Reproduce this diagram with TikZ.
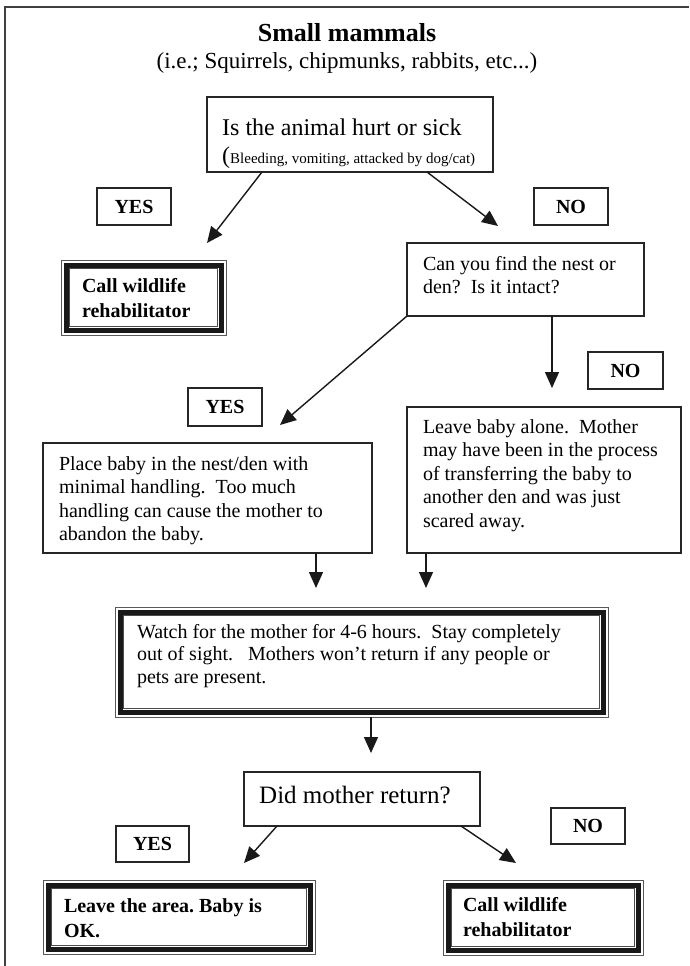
\documentclass[tikz,border=0pt]{standalone}
\usepackage{fontspec}
\setmainfont{Liberation Serif}
\usetikzlibrary{arrows.meta}
\frenchspacing
\newcommand\tup{\rule{0pt}{15pt}}
\newcommand\tribord[1]{%
  \draw[line width=5pt,black!90] ([shift={(5pt,-5pt)}]#1.north west) rectangle ([shift={(-5pt,5pt)}]#1.south east);
  \draw[line width=0.8pt,black!70] ([shift={(8.8pt,-8.8pt)}]#1.north west) rectangle ([shift={(-8.8pt,8.8pt)}]#1.south east);}
\tikzset{
  box/.style={draw=black!85, line width=1.3pt, rectangle, inner sep=0pt, outer sep=0pt},
  tbox/.style={draw=black!65, line width=0.8pt, rectangle, inner sep=0pt, outer sep=0pt},
  sz/.style 2 args={minimum width=#1, minimum height=#2},
  lab/.style={box, font=\bfseries\fontsize{20}{24}\selectfont},
  txt/.style={anchor=north west, inner sep=0pt, outer sep=0pt, align=left, font=\fontsize{20}{23.5}\selectfont},
  btxt/.style={txt, font=\bfseries\fontsize{20}{25}\selectfont},
  arr/.style={-{Triangle[length=16pt,width=14pt]}, line width=1.4pt, black!90},
}
\begin{document}
\begin{tikzpicture}[x=1pt,y=-1pt]
\useasboundingbox (0,0) rectangle (689,966);
\fill[white] (0,0) rectangle (689,966);
% outer frame (cropped)
\draw[line width=2pt, black!75] (5,966) -- (5,7) -- (689,7);

% title
\node[anchor=base, inner sep=0pt, font=\bfseries\fontsize{26}{30}\selectfont] (title) at (347,42) {Small mammals};
\node[anchor=base, inner sep=0pt, font=\fontsize{23}{27}\selectfont] (subtitle) at (347,69) {(i.e.; Squirrels, chipmunks, rabbits, etc...)};

% boxes
\node[box, sz={286}{75}] (b1) at (350,134.5) {};
\node[anchor=base west, inner sep=0pt, font=\fontsize{24}{28}\selectfont] (b1t) at (222,135) {Is the animal hurt or sick};
\node[anchor=base west, inner sep=0pt, font=\fontsize{15}{18}\selectfont] (b1u) at (222,163) {{\fontsize{24}{28}\selectfont(}Bleeding, vomiting, attacked by dog/cat)};

\node[lab, sz={74}{37}] (yes1) at (134,206.5) {YES};
\node[lab, sz={74}{37}] (no1) at (571,206.5) {NO};

\node[tbox, sz={165}{75}] (call1) at (143.5,297.5) {};
\tribord{call1}
\node[btxt] (call1t) at (82,277) {\tup Call wildlife\\rehabilitator};

\node[box, sz={237}{73}] (b2) at (525.5,279.5) {};
\node[txt] (b2t) at (423,255) {\tup Can you find the nest or\\den?\ \ Is it intact?};

\node[lab, sz={75}{37}] (no2) at (625.5,370.5) {NO};
\node[lab, sz={74}{38}] (yes2) at (225,407) {YES};

\node[box, sz={329}{110}] (place) at (207.5,498) {};
\node[txt] (placet) at (59,455) {\tup Place baby in the nest/den with\\minimal handling.\ \ Too much\\handling can cause the mother to\\abandon the baby.};

\node[box, sz={274}{146}] (leavebaby) at (544,480) {};
\node[txt] (leavebabyt) at (423,418) {\tup Leave baby alone.\ \ Mother\\may have been in the process\\of transferring the baby to\\another den and was just\\scared away.};

\node[tbox, sz={493}{110}] (watch) at (361.5,662) {};
\tribord{watch}
\node[txt, font=\fontsize{20}{22.5}\selectfont] (watcht) at (137,623) {\tup Watch for the mother for 4-6 hours.\ \ Stay completely\\out of sight.\ \ \ Mothers won’t return if any people or\\pets are present.};

\node[box, sz={236}{54}] (did) at (362,799) {};
\node[anchor=base west, inner sep=0pt, font=\fontsize{25}{29}\selectfont] (didt) at (259,803) {Did mother return?};

\node[lab, sz={73}{36}] (yes3) at (152.5,844) {YES};
\node[lab, sz={74}{36}] (no3) at (588,826) {NO};

\node[tbox, sz={272}{74}] (leavearea) at (179,917) {};
\tribord{leavearea}
\node[btxt] (leaveareat) at (64,897) {\tup Leave the area. Baby is\\OK.};

\node[tbox, sz={200}{75}] (call2) at (543,917.5) {};
\tribord{call2}
\node[btxt] (call2t) at (463,896) {\tup Call wildlife\\rehabilitator};

% arrow end points
\coordinate (tip1) at (207,243);
\coordinate (tip2) at (498,226);
\coordinate (tip3) at (280,425);
\coordinate (tip4) at (552,388);
\coordinate (tip5) at (316,588);
\coordinate (tip6) at (426,588);
\coordinate (tip7) at (371,753);
\coordinate (tip8) at (244,863);
\coordinate (tip9) at (516,863);

\draw[arr] ([xshift=55pt]b1.south west) -- (tip1);
\draw[arr] ([xshift=220pt]b1.south west) -- (tip2);
\draw[arr] (b2.south west) -- (tip3);
\draw[arr] ([xshift=145pt]b2.south west) -- (tip4);
\draw[arr] ([xshift=273pt]place.south west) -- (tip5);
\draw[arr] ([xshift=19pt]leavebaby.south west) -- (tip6);
\draw[arr] ([xshift=256pt]watch.south west) -- (tip7);
\draw[arr] ([xshift=33pt]did.south west) -- (tip8);
\draw[arr] ([xshift=217pt]did.south west) -- (tip9);
\end{tikzpicture}
\end{document}
